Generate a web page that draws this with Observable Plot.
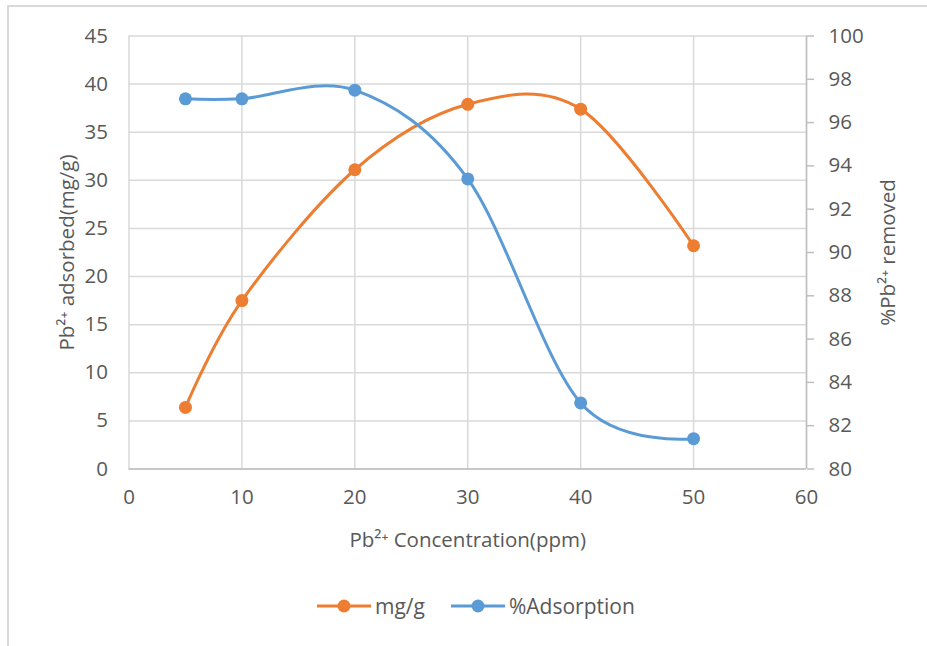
<!DOCTYPE html>
<html><head><meta charset="utf-8">
<script src="https://cdn.jsdelivr.net/npm/d3@7"></script>
<script src="https://cdn.jsdelivr.net/npm/@observablehq/plot@0.6"></script>
<style>
html,body{margin:0;background:#fff;overflow:hidden;width:927px;height:646px;font-family:"Open Sans",sans-serif;}
#frame{position:absolute;left:7px;top:5px;width:960px;height:700px;border:2px solid #d9d9d9;box-sizing:border-box}
#chart{position:absolute;left:0;top:0}
#legend{position:absolute;left:317px;top:592px;display:flex;align-items:center;font-size:21px;color:#595959;white-space:nowrap}
#legend .item{display:flex;align-items:center;margin-right:26px}
#legend svg{margin-right:4px}
</style></head><body>
<div id="frame"></div><div id="chart"></div><div id="legend"></div>
<script>
const concentration = [5, 10, 20, 30, 40, 50];
const adsorbedMgG = [6.4, 17.5, 31.1, 37.9, 37.4, 23.2];
const percentRemoved = [97.1, 97.1, 97.5, 93.4, 83.05, 81.4];
const xTicks = [0, 10, 20, 30, 40, 50, 60];
const leftTicks = [0, 5, 10, 15, 20, 25, 30, 35, 40, 45];
const rightTicks = [80, 82, 84, 86, 88, 90, 92, 94, 96, 98, 100];
const seriesNames = ["mg/g", "%Adsorption"];
const seriesColors = ["#ED7D31", "#5B9BD5"];
const xTitle = "Pb²⁺ Concentration(ppm)";
const leftTitle = "Pb²⁺ adsorbed(mg/g)";
const rightTitle = "%Pb²⁺ removed";

const L0 = leftTicks[0], L1 = leftTicks[leftTicks.length - 1];
const R0 = rightTicks[0], R1 = rightTicks[rightTicks.length - 1];
const toLeft = v => L0 + (v - R0) / (R1 - R0) * (L1 - L0);
const fromLeft = v => R0 + (v - L0) / (L1 - L0) * (R1 - R0);

const mg = concentration.map((c, i) => ({x: c, y: adsorbedMgG[i]}));
const pct = concentration.map((c, i) => ({x: c, y: toLeft(percentRemoved[i])}));

const grid = "#d9d9d9", axisCol = "#bfbfbf";

const chart = Plot.plot({
  width: 927,
  height: 560,
  marginLeft: 128.5,
  marginRight: 121,
  marginTop: 35.5,
  marginBottom: 91.5,
  style: {fontFamily: "Open Sans, sans-serif", fontSize: "20.5px", color: "#595959", background: "transparent"},
  x: {domain: [xTicks[0], xTicks[xTicks.length - 1]]},
  y: {domain: [L0, L1]},
  marks: [
    Plot.gridY(leftTicks, {stroke: grid, strokeOpacity: 1, strokeWidth: 1.5}),
    Plot.gridX(xTicks.slice(1), {stroke: grid, strokeOpacity: 1, strokeWidth: 1.5}),
    Plot.ruleX([xTicks[0]], {stroke: grid, strokeWidth: 1.5}),
    Plot.ruleX([xTicks[xTicks.length - 1]], {stroke: axisCol, strokeWidth: 1.5}),
    Plot.ruleY([L0], {stroke: axisCol, strokeWidth: 1.5}),
    Plot.axisX(xTicks, {tickSize: 0, tickPadding: 20, label: xTitle, labelAnchor: "center", labelOffset: 78, labelArrow: "none"}),
    Plot.axisY(leftTicks, {anchor: "left", tickSize: 0, tickPadding: 21, label: leftTitle, labelAnchor: "center", labelOffset: 70, labelArrow: "none"}),
    Plot.axisY(rightTicks.map(toLeft), {anchor: "right", tickSize: 7, tickPadding: 15, stroke: axisCol, strokeWidth: 1.5,
      tickFormat: d => String(Math.round(fromLeft(d))), label: rightTitle, labelAnchor: "center", labelOffset: 88, labelArrow: "none"}),
    Plot.line(mg, {x: "x", y: "y", stroke: seriesColors[0], strokeWidth: 3, curve: "cardinal", tension: 0}),
    Plot.line(pct, {x: "x", y: "y", stroke: seriesColors[1], strokeWidth: 3, curve: "cardinal", tension: 0}),
    Plot.dot(mg, {x: "x", y: "y", r: 6.5, fill: seriesColors[0]}),
    Plot.dot(pct, {x: "x", y: "y", r: 6.5, fill: seriesColors[1]})
  ]
});
document.getElementById("chart").append(chart);

const legend = document.getElementById("legend");
seriesNames.forEach((name, i) => {
  const item = document.createElement("div");
  item.className = "item";
  item.innerHTML = `<svg width="54" height="16"><line x1="0" y1="8" x2="54" y2="8" stroke="${seriesColors[i]}" stroke-width="3"/><circle cx="27" cy="8" r="6.5" fill="${seriesColors[i]}"/></svg><span>${name}</span>`;
  legend.append(item);
});
</script>
</body></html>
